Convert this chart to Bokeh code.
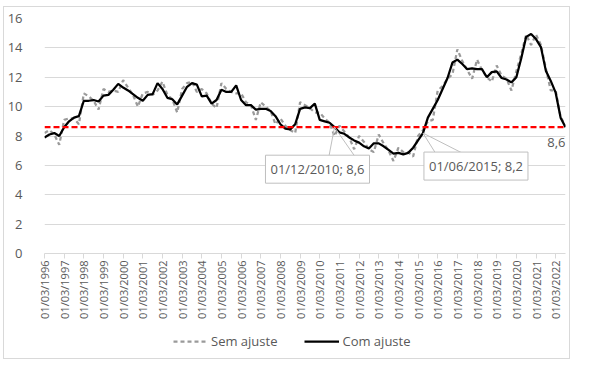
import math
from bokeh.plotting import figure
from bokeh.layouts import column
from bokeh.models import Range1d, FixedTicker, Legend, LegendItem, Label, ColumnDataSource
from bokeh.embed import file_html
from bokeh.resources import INLINE

# ---------------- data (quarterly, 01/03/1996 .. 01/09/2022) ----------------
com_ajuste = [
    7.9, 8.1, 8.2, 8.0,       # 1996
    8.6, 9.0, 9.25, 9.35,     # 1997
    10.4, 10.4, 10.45, 10.35,  # 1998
    10.75, 10.8, 11.15, 11.55,  # 1999
    11.3, 11.1, 10.85, 10.6,   # 2000
    10.4, 10.8, 10.85, 11.6,   # 2001
    11.2, 10.6, 10.5, 10.15,   # 2002
    10.75, 11.35, 11.6, 11.5,  # 2003
    10.7, 10.75, 10.2, 10.45,  # 2004
    11.15, 11.0, 11.0, 11.45,  # 2005
    10.45, 10.1, 10.1, 9.8,    # 2006
    9.85, 9.85, 9.7, 9.35,     # 2007
    8.8, 8.5, 8.45, 8.8,       # 2008
    9.85, 9.95, 9.9, 10.2,     # 2009
    9.1, 9.0, 8.9, 8.6,        # 2010
    8.25, 8.15, 7.9, 7.7,      # 2011
    7.55, 7.3, 7.15, 7.5,      # 2012
    7.5, 7.3, 7.05, 6.8,       # 2013
    6.85, 6.75, 6.85, 7.2,     # 2014
    7.7, 8.2, 9.25, 9.85,      # 2015
    10.45, 11.2, 11.95, 13.0,  # 2016
    13.2, 12.9, 12.55, 12.6,   # 2017
    12.55, 12.55, 12.0, 12.35,  # 2018
    12.4, 11.95, 11.85, 11.65,  # 2019
    12.0, 13.3, 14.75, 14.95,  # 2020
    14.6, 14.05, 12.45, 11.75,  # 2021
    10.95, 9.25, 8.6,          # 2022
]
sem_ajuste = [
    8.2, 8.4, 8.1, 7.4,
    9.1, 9.2, 9.2, 8.8,
    10.9, 10.7, 10.4, 9.8,
    11.2, 11.0, 11.1, 11.0,
    11.8, 11.3, 10.8, 10.0,
    10.9, 11.0, 10.8, 11.1,
    11.7, 10.8, 10.5, 9.6,
    11.2, 11.6, 11.7, 11.0,
    11.2, 10.9, 10.2, 9.9,
    11.6, 11.2, 11.0, 10.9,
    10.9, 10.3, 10.1, 9.1,
    10.3, 10.0, 9.7, 8.8,
    9.2, 8.7, 8.4, 8.2,
    10.3, 10.1, 9.9, 9.6,
    9.6, 9.2, 8.9, 8.0,
    8.7, 8.3, 7.9, 7.1,
    8.0, 7.6, 7.1, 6.9,
    8.1, 7.5, 7.0, 6.3,
    7.2, 6.9, 6.9, 6.6,
    8.0, 8.4, 9.0, 9.1,
    11.1, 11.4, 11.9, 12.2,
    13.9, 13.1, 12.5, 11.9,
    13.2, 12.5, 12.0, 11.7,
    12.8, 12.1, 11.9, 11.1,
    12.4, 13.6, 14.9, 14.2,
    14.9, 14.2, 12.6, 11.1,
    11.1, 9.3, 8.7,
]
referencia = 8.6
tick_labels = [
    "01/03/1996", "01/03/1997", "01/03/1998", "01/03/1999", "01/03/2000",
    "01/03/2001", "01/03/2002", "01/03/2003", "01/03/2004", "01/03/2005",
    "01/03/2006", "01/03/2007", "01/03/2008", "01/03/2009", "01/03/2010",
    "01/03/2011", "01/03/2012", "01/03/2013", "01/03/2014", "01/03/2015",
    "01/03/2016", "01/03/2017", "01/03/2018", "01/03/2019", "01/03/2020",
    "01/03/2021", "01/03/2022",
]
y_ticks = [0, 2, 4, 6, 8, 10, 12, 14, 16]
callout_dates = ["01/12/2010", "01/06/2015"]
callout_index = [59, 77]
series_names = ["Sem ajuste", "Com ajuste"]

# ---------------- styles ----------------
n = len(com_ajuste)
xs = list(range(n))
FONT = "Open Sans"
TXT = "#595959"
W = 565
H1, H2 = 325, 26
SEM_STYLE = dict(line_color="#9a9a9a", line_width=2.25, line_dash="4 3")
COM_STYLE = dict(line_color="black", line_width=2.25)

p = figure(width=W, height=H1, x_range=Range1d(0, n - 1), y_range=Range1d(0, 16),
           output_backend="svg", toolbar_location=None,
           min_border_left=31, min_border_right=4, min_border_top=11, min_border_bottom=79)
p.outline_line_color = None

p.xgrid.visible = False
p.ygrid.grid_line_color = "#d9d9d9"

p.xaxis.ticker = FixedTicker(ticks=list(range(0, n, 4)))
p.xaxis.major_label_overrides = {i * 4: lab for i, lab in enumerate(tick_labels)}
p.xaxis.major_label_orientation = math.pi / 2
p.xaxis.axis_line_color = "#d9d9d9"
p.xaxis.major_tick_line_color = "#d9d9d9"
p.xaxis.major_tick_out = 5
p.xaxis.major_tick_in = 0
p.xaxis.minor_tick_line_color = None
p.xaxis.major_label_standoff = 2
p.xaxis.major_label_text_font = FONT
p.xaxis.major_label_text_font_size = "11px"
p.xaxis.major_label_text_color = TXT

p.yaxis.ticker = FixedTicker(ticks=y_ticks)
p.yaxis.axis_line_color = None
p.yaxis.major_tick_line_color = None
p.yaxis.minor_tick_line_color = None
p.yaxis.major_label_standoff = 16
p.yaxis.major_label_text_font = FONT
p.yaxis.major_label_text_font_size = "13px"
p.yaxis.major_label_text_color = TXT

src = ColumnDataSource(dict(x=xs, sem=sem_ajuste, com=com_ajuste, ref=[referencia] * n))
p.line("x", "sem", source=src, **SEM_STYLE)
p.line("x", "com", source=src, **COM_STYLE)
p.line("x", "ref", source=src, line_color="#ff0000", line_width=2.25, line_dash="6 3")

# callouts
PX_Q = 530.0 / (n - 1)
PX_U = 235.0 / 16
offsets = [(-17, -42, -6, 22), (53, -33, 14, 44)]  # box dx, box dy, wedge left dx, wedge right dx (px)
for d, idx, (bdx, bdy, w1, w2) in zip(callout_dates, callout_index, offsets):
    v = com_ajuste[idx]
    txt = f"{d}; {str(v).replace('.', ',')}"
    top_dy = bdy + 11
    for w in (w1, w2):
        p.segment(x0=[idx], y0=[v], x1=[idx + w / PX_Q], y1=[v + top_dy / PX_U],
                  line_color="#bfbfbf", line_width=1)
    p.add_layout(Label(x=idx, y=v, x_offset=bdx, y_offset=bdy, text=txt,
                       text_align="center", text_baseline="middle",
                       text_font=FONT, text_font_size="13px", text_color=TXT,
                       background_fill_color="white", border_line_color="#bfbfbf",
                       padding=5))

p.add_layout(Label(x=n - 1, y=com_ajuste[-1], x_offset=0, y_offset=-15,
                   text=str(com_ajuste[-1]).replace(".", ","),
                   text_align="right", text_baseline="middle",
                   text_font=FONT, text_font_size="13px", text_color=TXT))

# legend strip (its own small figure under the chart)
q = figure(width=W, height=H2, x_range=Range1d(0, 1), y_range=Range1d(0, 1),
           output_backend="svg", toolbar_location=None, min_border=0)
q.axis.visible = False
q.grid.visible = False
q.outline_line_color = None
q_src = ColumnDataSource(dict(x=[-2, -1], y=[-2, -1]))  # kept outside the visible range
q_sem = q.line("x", "y", source=q_src, **SEM_STYLE)
q_com = q.line("x", "y", source=q_src, **COM_STYLE)
legend = Legend(items=[LegendItem(label=series_names[0], renderers=[q_sem]),
                       LegendItem(label=series_names[1], renderers=[q_com])],
                orientation="horizontal", location=(129, 8),
                border_line_color=None, background_fill_alpha=0,
                label_text_font=FONT, label_text_font_size="13px", label_text_color=TXT,
                glyph_width=35, glyph_height=16, label_standoff=3, spacing=27,
                padding=0, margin=0)
q.add_layout(legend, "center")

layout = column(p, q, spacing=0)
layout.styles = {"border": "1px solid #d9d9d9", "margin-left": "3px", "margin-top": "6px"}

open("out.html", "w").write(file_html(layout, INLINE))
